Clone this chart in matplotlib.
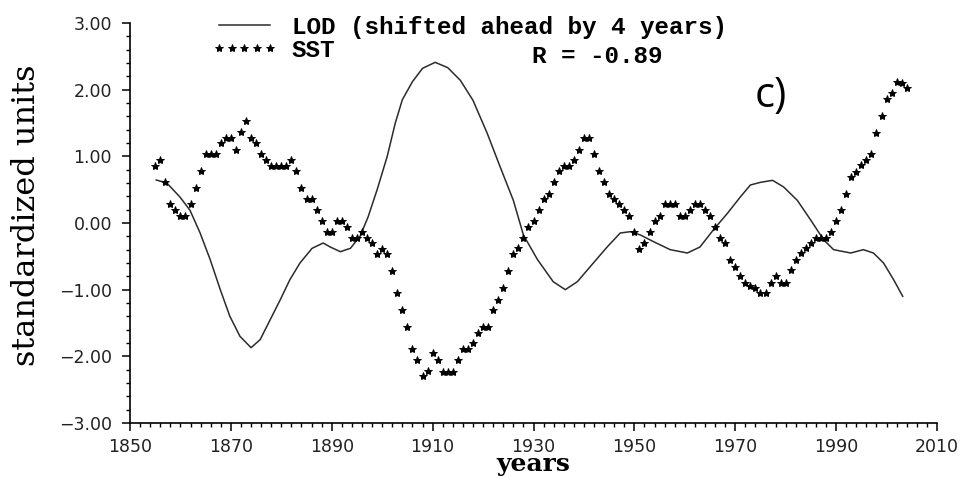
import numpy as np
import matplotlib
matplotlib.use("Agg")
import matplotlib.pyplot as plt
from matplotlib.ticker import MultipleLocator, FuncFormatter

# LOD (shifted ahead by 4 years)
lod_years = [1855.2, 1857.3, 1859.9, 1861.9, 1863.9, 1865.9, 1867.9, 1869.8, 1871.8,
             1874.0, 1875.8, 1877.8, 1879.8, 1881.7, 1883.7, 1886.1, 1888.3, 1889.7,
             1891.7, 1893.7, 1895.6, 1897.2, 1899.0, 1901.0, 1902.6, 1904.0, 1906.0,
             1908.0, 1910.5, 1913.0, 1915.5, 1918.0, 1920.8, 1923.4, 1926.0, 1928.0,
             1930.8, 1933.9, 1936.3, 1938.7, 1941.3, 1944.6, 1947.2, 1949.2, 1951.2,
             1953.8, 1957.1, 1960.5, 1963.0, 1965.7, 1968.5, 1971.0, 1973.0, 1975.0,
             1977.4, 1979.6, 1982.3, 1985.0, 1987.5, 1989.5, 1992.9, 1995.4, 1997.4,
             1999.4, 2001.4, 2003.2]
lod_vals = [0.645, 0.60, 0.39, 0.19, -0.15, -0.55, -1.00, -1.40, -1.70,
            -1.87, -1.75, -1.45, -1.15, -0.85, -0.60, -0.38, -0.30, -0.36,
            -0.43, -0.38, -0.20, 0.09, 0.50, 1.00, 1.50, 1.85, 2.12,
            2.32, 2.41, 2.33, 2.14, 1.84, 1.35, 0.84, 0.34, -0.18,
            -0.55, -0.88, -1.00, -0.88, -0.65, -0.36, -0.15, -0.13, -0.18,
            -0.28, -0.40, -0.45, -0.36, -0.10, 0.15, 0.39, 0.57, 0.61,
            0.64, 0.54, 0.34, 0.04, -0.25, -0.40, -0.45, -0.40, -0.45,
            -0.60, -0.85, -1.10]

# SST, one value per year 1855-2004
sst_years = list(range(1855, 2005))
sst_vals = [0.86, 0.94, 0.62, 0.28, 0.20, 0.10, 0.10, 0.28, 0.53, 0.78,
            1.03, 1.03, 1.03, 1.20, 1.28, 1.28, 1.10, 1.36, 1.53, 1.28,
            1.20, 1.03, 0.94, 0.86, 0.86, 0.86, 0.86, 0.94, 0.78, 0.53,
            0.36, 0.36, 0.19, 0.03, -0.14, -0.14, 0.03, 0.03, -0.06, -0.22,
            -0.22, -0.14, -0.22, -0.30, -0.47, -0.39, -0.47, -0.72, -1.05, -1.30,
            -1.56, -1.89, -2.05, -2.30, -2.22, -1.95, -2.05, -2.23, -2.23, -2.23,
            -2.05, -1.89, -1.89, -1.80, -1.65, -1.56, -1.56, -1.30, -1.15, -0.98,
            -0.72, -0.47, -0.38, -0.22, -0.06, 0.03, 0.19, 0.36, 0.44, 0.61,
            0.78, 0.86, 0.86, 0.94, 1.10, 1.28, 1.28, 1.03, 0.78, 0.61,
            0.44, 0.36, 0.28, 0.19, 0.11, -0.14, -0.39, -0.30, -0.14, 0.03,
            0.11, 0.28, 0.28, 0.28, 0.11, 0.11, 0.19, 0.28, 0.28, 0.19,
            0.11, -0.06, -0.22, -0.30, -0.55, -0.66, -0.80, -0.90, -0.95, -0.97,
            -1.05, -1.05, -0.90, -0.80, -0.90, -0.90, -0.70, -0.55, -0.45, -0.38,
            -0.30, -0.22, -0.22, -0.22, -0.14, 0.03, 0.19, 0.44, 0.69, 0.77,
            0.87, 0.94, 1.03, 1.35, 1.60, 1.86, 1.95, 2.11, 2.10, 2.02]

x_ticks = [1850, 1870, 1890, 1910, 1930, 1950, 1970, 1990, 2010]
corr_text = "R = -0.89"

mono = "Liberation Mono"
serif = "DejaVu Serif"

fig = plt.figure(figsize=(9.61, 4.79), dpi=100)
ax = fig.add_axes([130 / 961, 1 - 423 / 479, 807 / 961, 400 / 479])

ax.plot(lod_years, lod_vals, color="#2b2b2b", lw=1.1,
        label="LOD (shifted ahead by 4 years)")
ax.plot(sst_years, sst_vals, ls="none", marker="*", ms=6, color="black",
        mec="black", mew=0.7, label="SST")

ax.set_xlim(1850, 2010)
ax.set_ylim(-3, 3)
ax.set_xticks(x_ticks)
ax.xaxis.set_minor_locator(MultipleLocator(2))
ax.yaxis.set_major_locator(MultipleLocator(1))
ax.yaxis.set_minor_locator(MultipleLocator(0.2))
ax.yaxis.set_major_formatter(FuncFormatter(lambda v, p: f"{v:.2f}".replace("-", "\u2212")))

for s in ["top", "right"]:
    ax.spines[s].set_visible(False)
for s in ["left", "bottom"]:
    ax.spines[s].set_linewidth(1.2)

ax.tick_params(which="major", direction="out", length=6, width=1.1, pad=5,
               labelsize=12.5, labelcolor="#222222")
ax.tick_params(which="minor", direction="out", length=3, width=1.0)
ax.tick_params(axis="y", which="major", pad=7)

ax.set_ylabel("standardized units", family=serif, fontsize=23, va="center")
ax.yaxis.set_label_coords(-103 / 807, 0.52)
ax.set_xlabel("years", family=serif, fontsize=18, fontweight="bold", va="baseline")
ax.xaxis.set_label_coords(0.5, -0.12)

leg = fig.legend(loc="upper left", bbox_to_anchor=(212 / 961, 1 - 16 / 479),
                 frameon=False, numpoints=5, handlelength=2.67, handletextpad=0.62,
                 labelspacing=0.0, borderpad=0, borderaxespad=0,
                 prop={"family": mono, "size": 17.5, "weight": "bold"})

fig.text(532 / 961, 1 - 63 / 479, corr_text, family=mono, fontsize=17.5,
         fontweight="bold", va="baseline", ha="left")
fig.text(755 / 961, 1 - 107 / 479, "c)", family="Open Sans", fontsize=30,
         va="baseline", ha="left")

fig.savefig("out.png", dpi=100)
